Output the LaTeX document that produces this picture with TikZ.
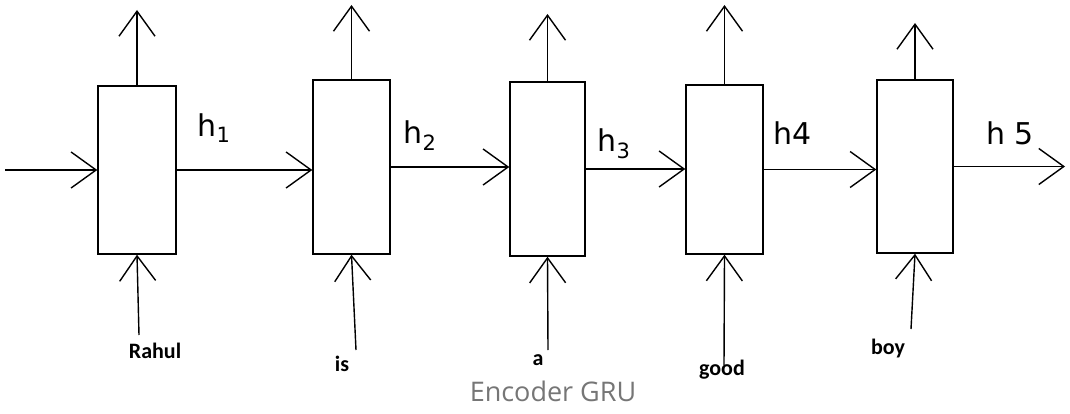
\documentclass[tikz,border=0pt]{standalone}
\usepackage{fontspec}
\setmainfont{Carlito}
\newfontfamily\capfont{Open Sans}
\newfontfamily\handfont{DejaVu Sans}
\usetikzlibrary{arrows.meta}
\definecolor{capgray}{RGB}{118,118,118}
\tikzset{
  cell/.style={draw, line width=1.4pt, minimum width=#1, inner sep=0pt},
  arr/.style={line width=1.4pt, -{Straight Barb[length=25pt,width=36pt,line width=1.4pt]}},
  word/.style={font=\fontsize{22}{26}\selectfont\bfseries, inner sep=0pt},
  hlab/.style={font=\handfont\fontsize{30}{34}\selectfont, inner sep=0pt},
}
\begin{document}
\begin{tikzpicture}[x=1pt,y=-1pt]
\useasboundingbox[fill=white] (0,0) rectangle (1070,414);
% cells
\node[cell=78pt, minimum height=168pt] (b1) at (137,170) {};
\node[cell=77pt, minimum height=174pt] (b2) at (351.5,167) {};
\node[cell=75pt, minimum height=174pt] (b3) at (547.5,169) {};
\node[cell=77pt, minimum height=169pt] (b4) at (724.5,169.5) {};
\node[cell=76pt, minimum height=173pt] (b5) at (915,166.5) {};
% outputs
\coordinate (o1) at (137,10);
\coordinate (o2) at (351.5,5);
\coordinate (o3) at (547.5,14);
\coordinate (o4) at (724.5,5);
\coordinate (o5) at (915,23);
\foreach \i in {1,...,5} {\draw[arr] (b\i.north) -- (o\i);}
% words and inputs
\node[word] (w1) at (155,351) {Rahul};
\node[word] (w2) at (342,364) {is};
\node[word] (w3) at (538,360) {a};
\node[word] (w4) at (722,370) {good};
\node[word] (w5) at (888,349) {boy};
\coordinate (i1) at (139,335);
\coordinate (i2) at (356,350);
\coordinate (i3) at (548,350);
\coordinate (i4) at (724,365);
\coordinate (i5) at (911,329);
\foreach \i in {1,...,5} {\draw[arr] (i\i) -- (b\i.south);}
% hidden states
\coordinate (x0) at (5,170);
\coordinate (hout) at (1065,166.5);
\draw[arr] (x0) -- (b1.west);
\draw[arr] (b1.east) -- (b1.east -| b2.west);
\draw[arr] (b2.east) -- (b2.east -| b3.west);
\draw[arr] (b3.east) -- (b3.east -| b4.west);
\draw[arr] (b4.east) -- (b4.east -| b5.west);
\draw[arr] (b5.east) -- (hout);
\node[hlab] (h1) at (214,128) {h\textsubscript{1}};
\node[hlab] (h2) at (420,136) {h\textsubscript{2}};
\node[hlab] (h3) at (614,144) {h\textsubscript{3}};
\node[hlab] (h4) at (793,133) {h4};
\node[hlab] (h5) at (1010,133) {h 5};
% caption
\node[font=\capfont\fontsize{27}{31}\selectfont, text=capgray] (cap) at (553,391) {Encoder GRU};
\end{tikzpicture}
\end{document}
